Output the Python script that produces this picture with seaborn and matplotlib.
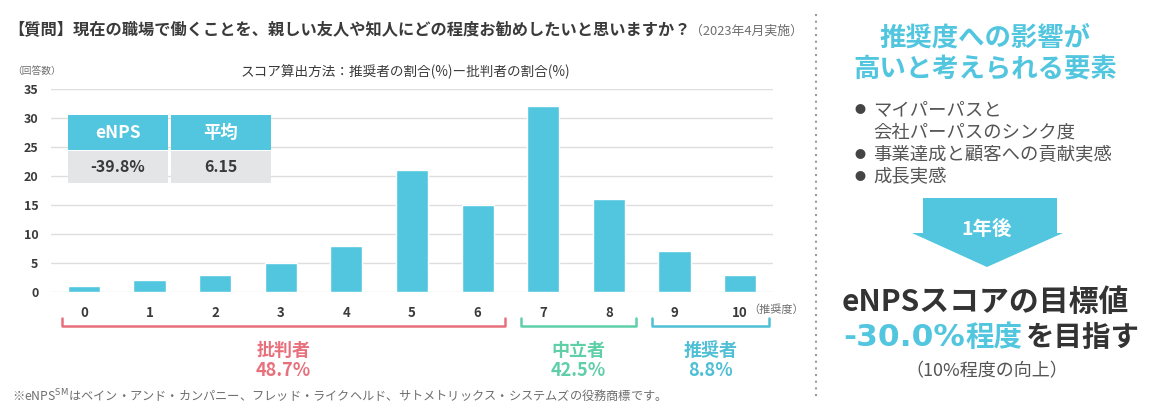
import matplotlib
matplotlib.use("Agg")
import matplotlib.pyplot as plt
import seaborn as sns
import pandas as pd
from matplotlib.patches import Rectangle, Polygon
from matplotlib.lines import Line2D
import matplotlib.transforms as mtransforms

# ---- data ----
scores = ["0", "1", "2", "3", "4", "5", "6", "7", "8", "9", "10"]
counts = [1, 2, 3, 5, 8, 21, 15, 32, 16, 7, 3]
y_ticks = [0, 5, 10, 15, 20, 25, 30, 35]
group_names = ["批判者", "中立者", "推奨者"]
group_pcts = ["48.7%", "42.5%", "8.8%"]
group_spans = [(-0.34, 6.42), (6.66, 8.41), (8.66, 10.44)]
table_headers = ["eNPS", "平均"]
table_values = ["-39.8%", "6.15"]
factors = ["マイパーパスと\n会社パーパスのシンク度", "事業達成と顧客への貢献実感", "成長実感"]

sns.set_theme(style="white")
plt.rcParams['font.family'] = ['Noto Sans CJK JP', 'DejaVu Sans']

W, H = 1155, 413
fig = plt.figure(figsize=(W / 100, H / 100), dpi=100)

def fx(px):
    return px / W

def fy(py):
    return 1 - py / H

CYAN = "#52c6df"
DARK = "#3a3a3a"
GRAY = "#6e6e6e"
RED = "#e8707c"
GREEN = "#5fcfa8"
BLUE = "#4fbfd6"

ax = fig.add_axes([fx(51), fy(292), fx(773) - fx(51), fy(89) - fy(292)])
df = pd.DataFrame({"score": scores, "count": counts})
sns.barplot(data=df, x="score", y="count", color=CYAN, width=0.49, ax=ax,
            saturation=1, zorder=3)
ax.set_xlim(-0.5, 10.5)
ax.set_ylim(0, 35)
ax.set_yticks(y_ticks)
ax.set_yticklabels([str(t) for t in y_ticks], fontsize=9, fontweight="bold", color=DARK)
ax.set_xticks(range(len(scores)))
ax.set_xticklabels(scores, fontsize=9.5, fontweight="bold", color=DARK)
ax.tick_params(axis="y", length=0, pad=9)
ax.tick_params(axis="x", length=0, pad=10)
ax.set_xlabel("")
ax.set_ylabel("")
for s in ax.spines.values():
    s.set_visible(False)
ax.grid(axis="y", color="#dedede", linewidth=1, zorder=0)
ax.set_axisbelow(True)

# brackets
trans = mtransforms.blended_transform_factory(ax.transData, fig.transFigure)
for (x0, x1), col, name, pct in zip(group_spans, [RED, GREEN, BLUE], group_names, group_pcts):
    ax.add_line(Line2D([x0, x0, x1, x1], [fy(318), fy(326), fy(326), fy(318)],
                       transform=trans, color=col, linewidth=1.8, clip_on=False))
    xc = (x0 + x1) / 2
    ax.text(xc, fy(350), name, transform=trans, ha="center", va="center",
            fontsize=13, color=col, fontweight="bold")
    ax.text(xc, fy(370), pct, transform=trans, ha="center", va="center",
            fontsize=13, color=col, fontweight="bold")

ax.text(10.12, fy(310), "（推奨度）", transform=trans, ha="left", va="center",
        fontsize=8, color=GRAY)

# title & labels
fig.text(fx(8), fy(30), "【質問】現在の職場で働くことを、親しい友人や知人にどの程度お勧めしたいと思いますか？",
         fontsize=11.7, fontweight="bold", color=DARK, ha="left", va="center")
fig.text(fx(690), fy(31), "（2023年4月実施）", fontsize=9.3, color=GRAY, ha="left", va="center")
fig.text(fx(12), fy(71), "（回答数）", fontsize=7, color=GRAY, ha="left", va="center")
fig.text(fx(405), fy(72), "スコア算出方法：推奨者の割合(%)ー批判者の割合(%)", fontsize=9.8,
         color=DARK, ha="center", va="center")
fig.text(fx(12), fy(396), "※eNPS$^{\\mathrm{SM}}$はベイン・アンド・カンパニー、フレッド・ライクヘルド、サトメトリックス・システムズの役務商標です。",
         fontsize=8.8, color=GRAY, ha="left", va="center")

# table
for i, (hd, val) in enumerate(zip(table_headers, table_values)):
    x0 = 68 + i * 103
    fig.patches.append(Rectangle((fx(x0), fy(150)), fx(100), fy(115) - fy(150),
                                 transform=fig.transFigure, facecolor=CYAN, edgecolor="none", zorder=5))
    fig.patches.append(Rectangle((fx(x0), fy(183)), fx(100), fy(151) - fy(183),
                                 transform=fig.transFigure, facecolor="#e3e5e6", edgecolor="none", zorder=5))
    fig.text(fx(x0 + 50), fy(133), hd, fontsize=12.5, fontweight="bold", color="white",
             ha="center", va="center", zorder=6)
    fig.text(fx(x0 + 50), fy(167), val, fontsize=11.5, fontweight="bold", color=DARK,
             ha="center", va="center", zorder=6)

# separator
fig.add_artist(Line2D([fx(816), fx(816)], [fy(14), fy(400)], color="#9a9a9a",
                      linewidth=1.5, linestyle=(0, (1, 2.2)), transform=fig.transFigure))

# right panel
fig.text(fx(985), fy(38), "推奨度への影響が", fontsize=19, fontweight="bold", color=CYAN,
         ha="center", va="center")
fig.text(fx(985), fy(70), "高いと考えられる要素", fontsize=19, fontweight="bold", color=CYAN,
         ha="center", va="center")
line_y = 110
for t in factors:
    fig.text(fx(860), fy(line_y), "●", fontsize=8, color="#444444", ha="center", va="center")
    for ln in t.split("\n"):
        fig.text(fx(873), fy(line_y), ln, fontsize=13.2, color="#555555", ha="left",
                 va="center")
        line_y += 22.5

fig.patches.append(Polygon([(fx(923), fy(198)), (fx(1057), fy(198)), (fx(1057), fy(233)),
                            (fx(1063), fy(233)), (fx(987), fy(267)), (fx(912), fy(233)),
                            (fx(923), fy(233))], closed=True, transform=fig.transFigure,
                           facecolor=CYAN, edgecolor="none"))
fig.text(fx(987), fy(229), "1年後", fontsize=14, fontweight="bold", color="white",
         ha="center", va="center")

fig.text(fx(985), fy(302), "eNPSスコアの目標値", fontsize=21.5, fontweight="bold", color="#333333",
         ha="center", va="center")
fig.text(fx(965), fy(338), "-30.0%", fontsize=22.5, fontweight="bold", color=CYAN,
         ha="right", va="center", family=["DejaVu Sans"])
fig.text(fx(965), fy(338), "程度", fontsize=20.5, fontweight="bold", color=CYAN,
         ha="left", va="center")
fig.text(fx(1026), fy(338), "を目指す", fontsize=20.5, fontweight="bold", color="#333333",
         ha="left", va="center")
fig.text(fx(987), fy(371), "（10%程度の向上）", fontsize=13, color="#555555",
         ha="center", va="center")

fig.savefig("out.png", dpi=100, facecolor="white")
